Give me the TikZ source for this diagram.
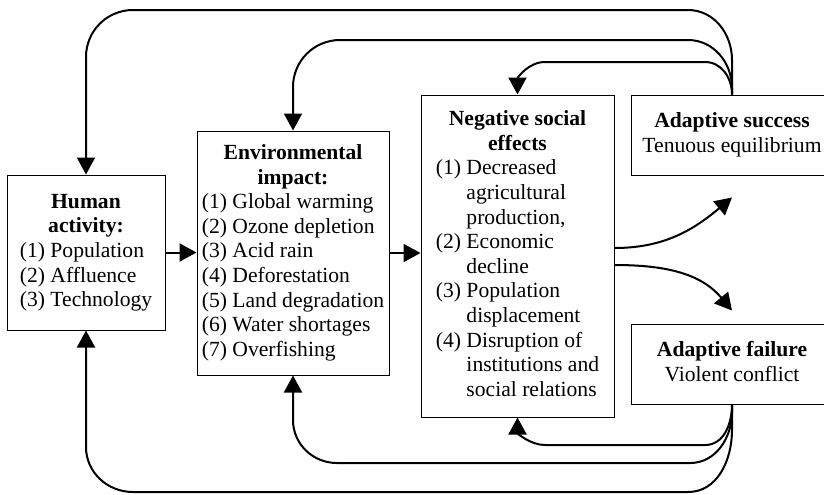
\documentclass[tikz,border=0pt]{standalone}
\usepackage{fontspec}
\setmainfont{Liberation Serif}
\usetikzlibrary{arrows.meta,positioning}

\newcommand{\boxtitle}[1]{\multicolumn{2}{@{}c@{}}{\textbf{#1}}}

\begin{document}
\begin{tikzpicture}[
  x=0.5pt, y=-0.5pt,
  font=\fontsize{10.8}{12.3}\selectfont,
  box/.style={draw, line width=0.5pt, inner sep=0.5pt},
  arr/.style={-{Triangle[length=8.5pt,width=9pt]}, line width=1pt}
]
\useasboundingbox (0,0) rectangle (824,494);
\clip (0,0) rectangle (824,494);

\node[box, minimum width=79pt, minimum height=77.5pt] (hum) at (86,252.5)
  {\begin{tabular}{@{}l@{ }l@{}}
   \boxtitle{Human}\\ \boxtitle{activity:}\\
   (1)&Population\\ (2)&Affluence\\ (3)&Technology
   \end{tabular}};

\node[box, minimum width=96pt, minimum height=122pt] (env) at (293,253)
  {\begin{tabular}{@{}l@{ }l@{}}
   \boxtitle{Environmental}\\ \boxtitle{impact:}\\
   (1)&Global warming\\ (2)&Ozone depletion\\ (3)&Acid rain\\
   (4)&Deforestation\\ (5)&Land degradation\\ (6)&Water shortages\\
   (7)&Overfishing
   \end{tabular}};

\node[box, minimum width=96.5pt, minimum height=161pt] (neg) at (517.5,256)
  {\begin{tabular}{@{}l@{ }l@{}}
   \boxtitle{Negative social}\\ \boxtitle{effects}\\
   (1)&Decreased\\ &agricultural\\ &production,\\
   (2)&Economic\\ &decline\\
   (3)&Population\\ &displacement\\
   (4)&Disruption of\\ &institutions and\\ &social relations
   \end{tabular}};

\node[box, minimum width=101pt, minimum height=40pt] (succ) at (732,135)
  {\begin{tabular}{@{}c@{}}\textbf{Adaptive success}\\ Tenuous equilibrium\end{tabular}};

\node[box, minimum width=101pt, minimum height=40pt] (fail) at (732,364)
  {\begin{tabular}{@{}c@{}}\textbf{Adaptive failure}\\ Violent conflict\end{tabular}};

% forward chain
\draw[arr] (hum.east) -- (hum.east -| env.west);
\draw[arr] (env.east) -- (env.east -| neg.west);
\draw[arr] ([yshift=4pt]neg.east) to[out=0,in=220] ([yshift=-11pt]succ.south);
\draw[arr] ([yshift=-4.5pt]neg.east) to[out=0,in=130] ([yshift=6.5pt]fail.north);

% feedback from adaptive success
\draw[arr] (succ.north) -- (732,60) to[out=90,in=0] (688,10) -- (133,10)
  to[out=180,in=90] (86,57) -- (hum.north);
\draw[arr] (succ.north) -- (732,88) to[out=90,in=0] (688,40) -- (340,40)
  to[out=180,in=90] (293,87) -- (env.north);
\draw[arr] (succ.north) to[out=90,in=0] (705,62) -- (545,62)
  to[out=180,in=90] (neg.north);

% feedback from adaptive failure
\draw[arr] (fail.south) to[out=-90,in=0] (705,445) -- (545,445)
  to[out=180,in=-90] (neg.south);
\draw[arr] (fail.south) -- (732,412) to[out=-90,in=0] (690,463) -- (337,463)
  to[out=180,in=-90] (293,420) -- (env.south);
\draw[arr] (fail.south) -- (732,430) to[out=-90,in=0] (688,492) -- (133,492)
  to[out=180,in=-90] (86,447) -- (hum.south);

\end{tikzpicture}
\end{document}
